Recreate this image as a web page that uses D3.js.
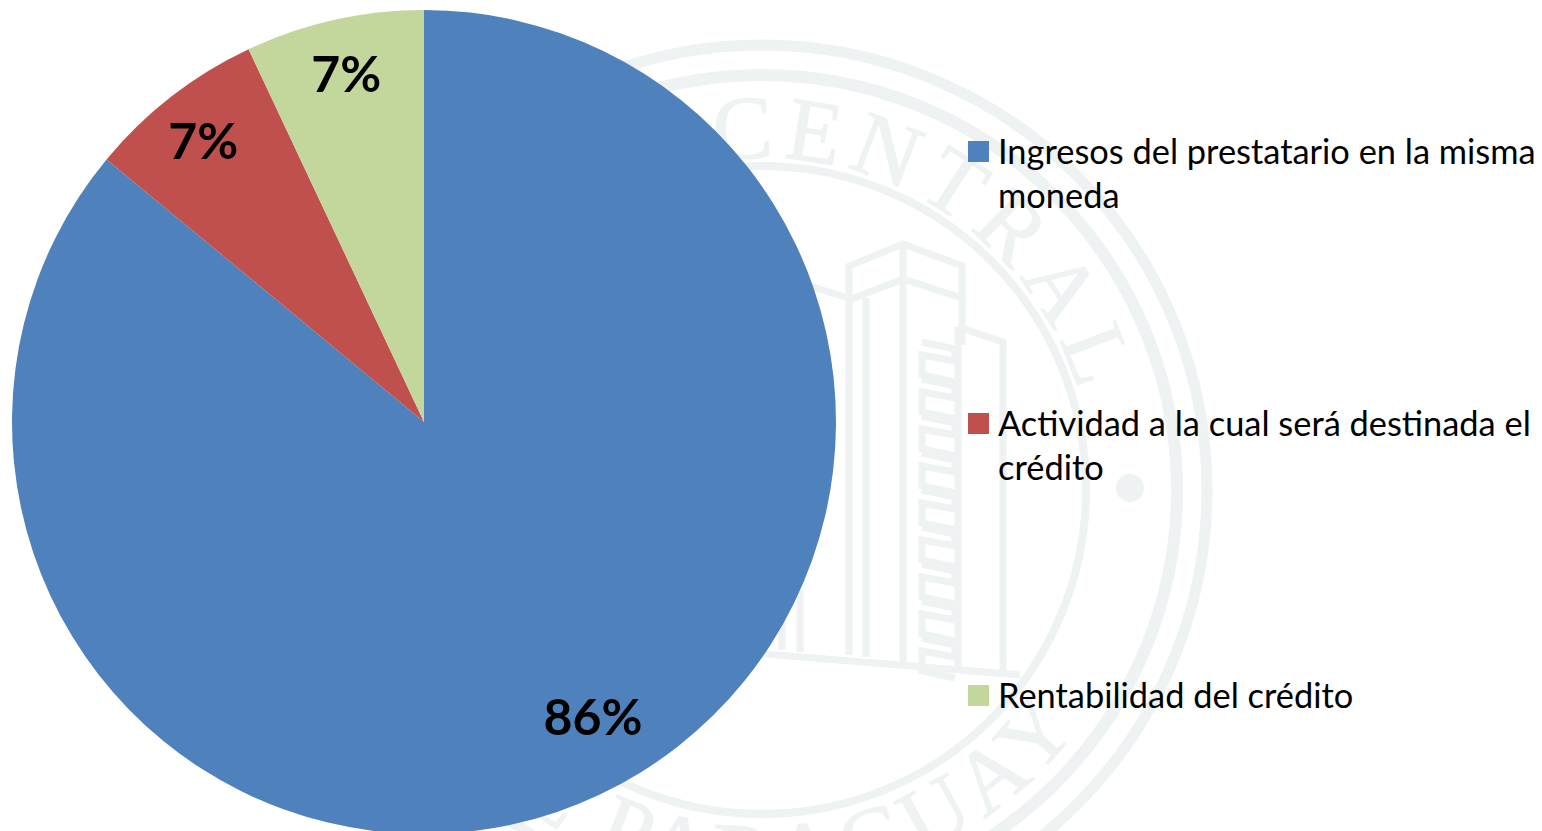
<!DOCTYPE html>
<html><head><meta charset="utf-8">
<script src="https://cdn.jsdelivr.net/npm/d3@7/dist/d3.min.js"></script>
<style>html,body{margin:0;background:#fff;overflow:hidden}svg{display:block}</style></head>
<body><svg id="c" width="1542" height="831"></svg>
<script>
const categories = ["Ingresos del prestatario en la misma\nmoneda","Actividad a la cual será destinada el\ncrédito","Rentabilidad del crédito"];
const values = [86,7,7];
const labels = ["86%","7%","7%"];
const colors = ["#4F81BD","#C0504D","#C3D69B"];

const FONT = "Lato, 'Open Sans', sans-serif";
const svg = d3.select("#c");
const W = "#eef2f2";

// --- watermark seal (background decoration) ---
const seal = svg.append("g").attr("fill","none").attr("stroke",W);
const sc = {x:762,y:490};
[[445,11],[415,12],[324,8]].forEach(([r,w])=>seal.append("circle").attr("cx",sc.x).attr("cy",sc.y).attr("r",r).attr("stroke-width",w));
svg.append("circle").attr("cx",1130).attr("cy",488).attr("r",14).attr("fill",W);
const defs = svg.append("defs");
const pathTop = d3.path(); pathTop.arc(sc.x,sc.y,332,-Math.PI*0.98,Math.PI*0.02,false);
defs.append("path").attr("id","sealTop").attr("d",pathTop.toString());
const pathBot = d3.path(); pathBot.arc(sc.x,sc.y,396,Math.PI*0.95,Math.PI*0.05,true);
defs.append("path").attr("id","sealBot").attr("d",pathBot.toString());
svg.append("text").attr("font-family","'Liberation Serif',serif").attr("font-size",90).attr("fill",W).attr("stroke",W).attr("stroke-width",1.2)
  .attr("transform",`rotate(-4.5 ${sc.x} ${sc.y})`)
  .append("textPath").attr("href","#sealTop").attr("startOffset","50%").attr("text-anchor","middle")
  .attr("letter-spacing",9).text("BANCO CENTRAL");
svg.append("text").attr("font-family","'Liberation Serif',serif").attr("font-size",90).attr("fill",W).attr("stroke",W).attr("stroke-width",1.2)
  .attr("transform",`rotate(2 ${sc.x} ${sc.y})`)
  .append("textPath").attr("href","#sealBot").attr("startOffset","50%").attr("text-anchor","middle")
  .attr("letter-spacing",8).text("DEL PARAGUAY");

const bld = svg.append("g").attr("fill","none").attr("stroke",W).attr("stroke-width",7);
[
 "M849 655V266L903 244L962 266V298L903 279L849 300",
 "M903 244V662",
 "M866 298V657",
 "M962 298V345",
 "M958 327L1003 342V674",
 "M958 327V670",
 "M740 652L1020 675",
 "M806 285L849 298",
 "M782 650V610M800 652V590"
].forEach(d=>bld.append("path").attr("d",d));
const stair = d3.range(342,660,37);
stair.forEach(y=>{
  bld.append("path").attr("d",`M922 ${y}L955 ${y+7}V${y+19}L922 ${y+13}V${y+33}L955 ${y+40}`);
});

// --- pie ---
const cx=424, cy=422, R=412;
const pie = d3.pie().sort(null).value(d=>d)(values);
const arc = d3.arc().innerRadius(0).outerRadius(R);
const g = svg.append("g").attr("transform",`translate(${cx},${cy})`);
g.selectAll("path").data(pie).join("path").attr("d",arc).attr("fill",(d,i)=>colors[i]);

const labelArc = d3.arc().innerRadius(357).outerRadius(357);
const nudge = [[17,-28],[-2,2],[0,1]];
g.selectAll("text").data(pie).join("text")
  .attr("transform",(d,i)=>{const c=labelArc.centroid(d);return `translate(${c[0]+nudge[i][0]},${c[1]+nudge[i][1]})`;})
  .attr("text-anchor","middle").attr("dy","0.35em")
  .attr("font-family",FONT).attr("font-size",50).attr("font-weight",700).attr("fill","#000")
  .text((d,i)=>labels[i]);

// --- legend ---
const y = d3.scalePoint().domain(d3.range(categories.length)).range([152,696]);
const leg = svg.append("g").selectAll("g").data(categories).join("g")
  .attr("transform",(d,i)=>`translate(968,${y(i)})`);
leg.append("rect").attr("x",0).attr("y",-11).attr("width",21).attr("height",21).attr("fill",(d,i)=>colors[i]);
leg.each(function(d){
  const t = d3.select(this).append("text").attr("font-family",FONT).attr("font-size",34.4).attr("fill","#000");
  d.split("\n").forEach((line,k)=>t.append("tspan").attr("x",30).attr("y",12+k*44).text(line));
});
</script></body></html>
